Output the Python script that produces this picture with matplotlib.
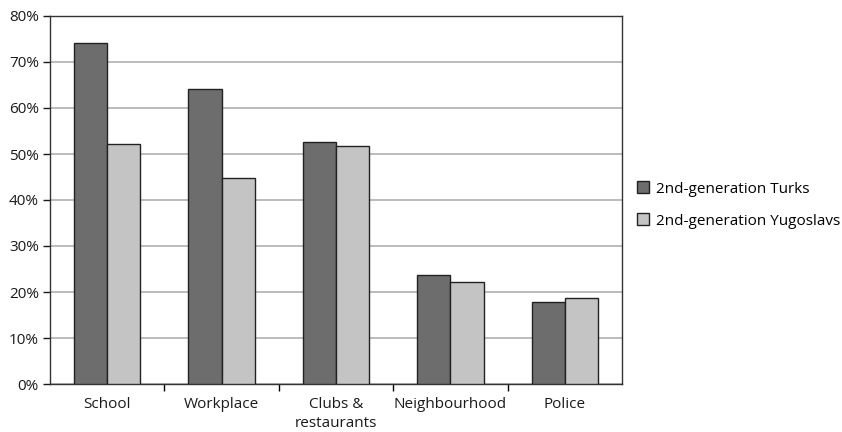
import matplotlib
matplotlib.use("Agg")
import matplotlib.pyplot as plt
import numpy as np
from matplotlib.ticker import FixedLocator, PercentFormatter

categories = ["School", "Workplace", "Clubs &\nrestaurants", "Neighbourhood", "Police"]
turks = [74.1, 64.2, 52.6, 23.8, 17.9]
yugoslavs = [52.2, 44.7, 51.8, 22.1, 18.8]
series_names = ["2nd-generation Turks", "2nd-generation Yugoslavs"]

plt.rcParams["font.family"] = ["Open Sans", "DejaVu Sans"]

fig = plt.figure(figsize=(8.42, 4.32), dpi=100)
ax = fig.add_axes([50 / 842, 48 / 432, 572 / 842, 368 / 432])

x = np.arange(len(categories))
w = 0.29
ax.bar(x - w / 2, turks, w, color="#6d6d6d", edgecolor="#222222", linewidth=1.0,
       label=series_names[0], zorder=3)
ax.bar(x + w / 2, yugoslavs, w, color="#c4c4c4", edgecolor="#222222", linewidth=1.0,
       label=series_names[1], zorder=3)

ax.set_xlim(-0.5, len(categories) - 0.5)
ax.set_ylim(0, 80)
ax.set_yticks(np.arange(0, 81, 10))
ax.yaxis.set_major_formatter(PercentFormatter(decimals=0))
ax.yaxis.grid(True, color="#b0b0b0", linewidth=1.2, zorder=0)

ax.set_xticks(x)
ax.set_xticklabels(categories, linespacing=1.45)
ax.tick_params(axis="x", which="major", length=0, pad=9)
ax.xaxis.set_minor_locator(FixedLocator(np.arange(0.5, len(categories) - 1, 1)))
ax.tick_params(axis="x", which="minor", length=5, width=1.0, direction="out")
ax.tick_params(axis="y", length=5, width=1.0, direction="out", pad=3)
ax.tick_params(labelsize=11, colors="#1a1a1a")

for s in ax.spines.values():
    s.set_color("#333333")
    s.set_linewidth(1.0)

ax.legend(loc="center left", bbox_to_anchor=(623 / 842, 1 - 205 / 432),
          bbox_transform=fig.transFigure, frameon=False, fontsize=11,
          handlelength=0.8, handleheight=0.8, handletextpad=0.45, labelspacing=1.1)

fig.savefig("out.png", dpi=100)
